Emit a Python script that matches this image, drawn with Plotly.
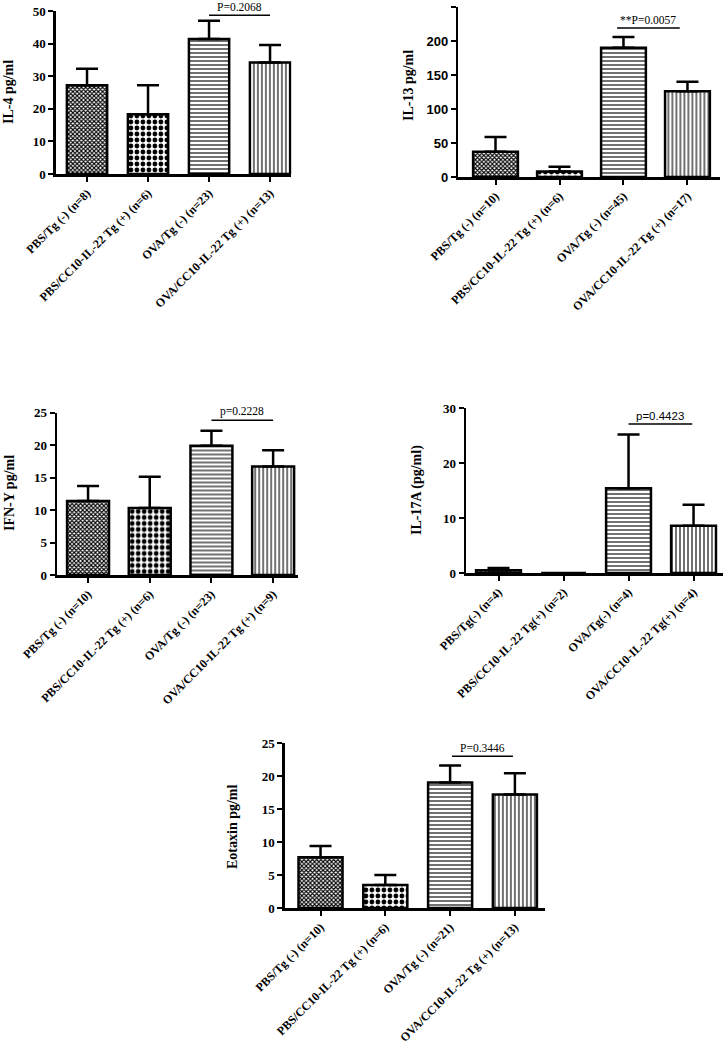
import plotly.graph_objects as go

W, H = 728, 1058

# ---------------- data ----------------
il4_labels = ["PBS/Tg (-) (n=8)", "PBS/CC10-IL-22 Tg (+) (n=6)", "OVA/Tg (-) (n=23)", "OVA/CC10-IL-22 Tg (+) (n=13)"]
il4_mean = [27.2, 18.3, 41.4, 34.2]
il4_err = [5.1, 8.9, 5.6, 5.4]
il4_p = "P=0.2068"

il13_labels = ["PBS/Tg (-) (n=10)", "PBS/CC10-IL-22 Tg (+) (n=6)", "OVA/Tg (-) (n=45)", "OVA/CC10-IL-22 Tg (+) (n=17)"]
il13_mean = [37, 8, 190, 126]
il13_err = [22, 7, 16, 14]
il13_p = "**P=0.0057"

ifn_labels = ["PBS/Tg (-) (n=10)", "PBS/CC10-IL-22 Tg (+) (n=6)", "OVA/Tg (-) (n=23)", "OVA/CC10-IL-22 Tg (+) (n=9)"]
ifn_mean = [11.4, 10.3, 19.9, 16.7]
ifn_err = [2.3, 4.8, 2.3, 2.5]
ifn_p = "p=0.2228"

il17_labels = ["PBS/Tg(-) (n=4)", "PBS/CC10-IL-22 Tg(+) (n=2)", "OVA/Tg(-) (n=4)", "OVA/CC10-IL-22 Tg(+) (n=4)"]
il17_mean = [0.5, 0.0, 15.4, 8.6]
il17_err = [0.4, 0.0, 9.8, 3.8]
il17_p = "p=0.4423"

eot_labels = ["PBS/Tg (-) (n=10)", "PBS/CC10-IL-22 Tg (+) (n=6)", "OVA/Tg (-) (n=21)", "OVA/CC10-IL-22 Tg (+) (n=13)"]
eot_mean = [7.7, 3.5, 19.0, 17.2]
eot_err = [1.7, 1.5, 2.6, 3.2]
eot_p = "P=0.3446"

# ---------------- layout config (pixel geometry) ----------------
SERIF = "Liberation Serif"
SANS = "Liberation Sans"

panels = [
    dict(labels=il4_labels, mean=il4_mean, err=il4_err, p=il4_p, title="IL-4 pg/ml",
         xpx=(55.9, 291.4), ypx=(11, 174), xr=(-0.51, 3.35), yr=(0, 50), dtick=10,
         bw=0.66, tickfont=SERIF, pfont=SERIF, pline=(2, 3, 48.7), tx=9, ty=92),
    dict(labels=il13_labels, mean=il13_mean, err=il13_err, p=il13_p, title="IL-13 pg/ml",
         xpx=(458.4, 720.1), ypx=(7, 177), xr=(-0.58, 3.51), yr=(0, 250), dtick=50,
         bw=0.70, tickfont=SANS, pfont=SERIF, pline=(1.9, 2.88, 219), tx=408, ty=86),
    dict(labels=ifn_labels, mean=ifn_mean, err=ifn_err, p=ifn_p, title="IFN-Y pg/ml",
         xpx=(57.2, 297.8), ypx=(412.5, 575), xr=(-0.5, 3.4), yr=(0, 25), dtick=5,
         bw=0.68, tickfont=SERIF, pfont=SERIF, pline=(2.0, 3.0, 23.8), tx=9, ty=493),
    dict(labels=il17_labels, mean=il17_mean, err=il17_err, p=il17_p, title="IL-17A (pg/ml)",
         xpx=(466, 722.8), ypx=(408, 573), xr=(-0.5, 3.45), yr=(0, 30), dtick=10,
         bw=0.69, tickfont=SERIF, pfont=SANS, pline=(2.0, 2.98, 27.1), tx=417, ty=490),
    dict(labels=eot_labels, mean=eot_mean, err=eot_err, p=eot_p, title="Eotaxin pg/ml",
         xpx=(284.9, 544.7), ypx=(743, 908), xr=(-0.55, 3.46), yr=(0, 25), dtick=5,
         bw=0.68, tickfont=SERIF, pfont=SERIF, pline=(2.03, 2.97, 23.0), tx=232, ty=826),
]

patterns = [
    dict(shape="x", size=3, solidity=0.6, fgcolor="black", bgcolor="white", fgopacity=1),
    dict(shape=".", size=6, solidity=0.5, fgcolor="black", bgcolor="white", fgopacity=1),
    dict(shape="-", size=4, solidity=0.28, fgcolor="black", bgcolor="white", fgopacity=1),
    dict(shape="|", size=4, solidity=0.28, fgcolor="black", bgcolor="white", fgopacity=1),
]

fig = go.Figure()
shapes = []
annotations = []

for i, p in enumerate(panels):
    k = "" if i == 0 else str(i + 1)
    xa, ya = "x" + k, "y" + k
    xs = list(range(len(p["labels"])))
    for j in xs:
        fig.add_trace(go.Bar(
            x=[j], y=[p["mean"][j]], width=p["bw"],
            xaxis=xa, yaxis=ya,
            marker=dict(color="white", line=dict(color="black", width=2.5),
                        pattern=patterns[j]),
            error_y=dict(type="data", symmetric=False, array=[p["err"][j]], arrayminus=[0],
                         color="black", thickness=2.5, width=11,
                         visible=p["err"][j] > 0),
            showlegend=False, hoverinfo="skip",
        ))
    x0, x1 = p["xpx"]
    y0, y1 = p["ypx"]
    fig.layout["xaxis" + k] = dict(
        domain=[x0 / W, x1 / W], anchor=ya, range=list(p["xr"]), automargin=False,
        tickvals=xs, ticktext=p["labels"], tickangle=-45,
        tickfont=dict(family=SERIF, size=12, color="black", weight="bold"),
        showline=True, linecolor="black", linewidth=2.5,
        ticks="outside", ticklen=5, tickwidth=2, tickcolor="black",
        showgrid=False, zeroline=False, fixedrange=True,
    )
    fig.layout["yaxis" + k] = dict(
        domain=[1 - y1 / H, 1 - y0 / H], anchor=xa, range=list(p["yr"]), automargin=False,
        dtick=p["dtick"], tick0=0,
        tickfont=dict(family=p["tickfont"], size=13, color="black", weight="bold"),
        showline=True, linecolor="black", linewidth=2.5,
        ticks="outside", ticklen=5, tickwidth=2, tickcolor="black",
        showgrid=False, zeroline=False, fixedrange=True,
    )
    la, lb, ly = p["pline"]
    shapes.append(dict(type="line", xref=xa, yref=ya, x0=la, x1=lb, y0=ly, y1=ly,
                       line=dict(color="black", width=1.5)))
    annotations.append(dict(xref=xa, yref=ya, x=(la + lb) / 2, y=ly, text=p["p"],
                            showarrow=False, yanchor="bottom", yshift=1, borderpad=0,
                            font=dict(family=p["pfont"], size=11.5, color="black")))
    annotations.append(dict(xref="paper", yref="paper", x=p["tx"] / W, y=1 - p["ty"] / H,
                            text=p["title"], textangle=-90, showarrow=False,
                            xanchor="center", yanchor="middle",
                            font=dict(family=SERIF, size=14, color="black", weight="bold")))

fig.update_layout(
    width=W, height=H, margin=dict(l=0, r=0, t=0, b=0, autoexpand=False),
    paper_bgcolor="white", plot_bgcolor="white",
    shapes=shapes, annotations=annotations, bargap=0,
)

fig.write_html("out.html", config={"displayModeBar": False, "staticPlot": True},
               post_script="document.body.style.margin='0';document.body.style.overflow='hidden';")
